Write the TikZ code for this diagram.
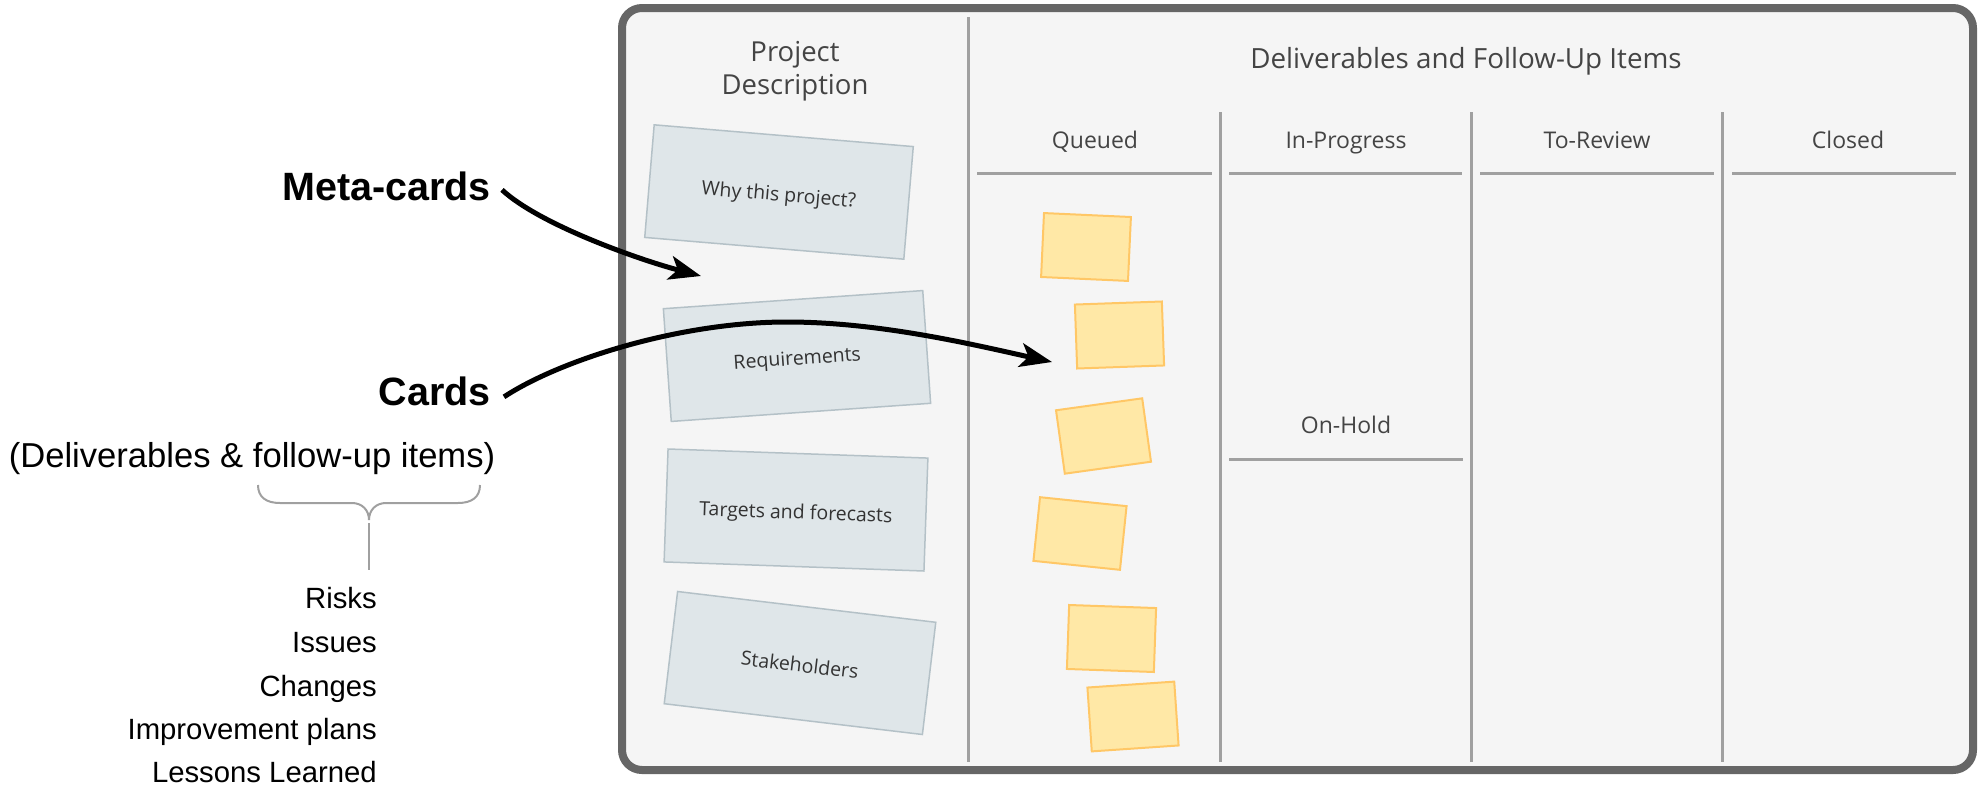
\documentclass[tikz,border=0pt]{standalone}
\usepackage{fontspec}
\setmainfont{Liberation Sans}
\newfontfamily\osans{Open Sans}
\usetikzlibrary{arrows.meta}
\definecolor{boardfill}{HTML}{F5F5F5}
\definecolor{boardline}{HTML}{666666}
\definecolor{gridline}{HTML}{A0A0A0}
\definecolor{headtext}{HTML}{444444}
\definecolor{cardfill}{HTML}{DFE6E9}
\definecolor{cardline}{HTML}{B4C1C7}
\definecolor{cardtext}{HTML}{333333}
\definecolor{stickyfill}{HTML}{FFE8A6}
\definecolor{stickyline}{HTML}{FFC766}
\definecolor{bracecol}{HTML}{A0A0A0}
\begin{document}
\begin{tikzpicture}[x=1pt,y=-1pt,
  metacard/.style={draw=cardline, fill=cardfill, line width=1.5pt, minimum width=260pt, minimum height=113pt, inner sep=0pt, text height=20pt, text depth=2pt, font=\osans\fontsize{19.5}{23}\selectfont, text=cardtext},
  sticky/.style={draw=stickyline, fill=stickyfill, line width=2pt, minimum width=87pt, minimum height=64pt, inner sep=0pt},
  colhead/.style={font=\osans\fontsize{23}{28}\selectfont, text=headtext, anchor=base, inner sep=0pt},
  bighead/.style={font=\osans\fontsize{27.5}{33}\selectfont, text=headtext, anchor=base, inner sep=0pt},
  rule/.style={draw=gridline, line width=3pt},
  callout/.style={font=\fontsize{39.5}{45}\selectfont\bfseries, anchor=base east, inner sep=0pt},
  item/.style={font=\fontsize{29.3}{35}\selectfont, anchor=base east, inner sep=0pt},
  pointer/.style={line width=5pt, -{Stealth[length=32pt,width=24pt,inset=8pt]}},
]
\useasboundingbox (0,0) rectangle (1987,787);
% board
\draw[draw=boardline, fill=boardfill, line width=8pt, rounded corners=20pt] (622,8) rectangle (1973,770);
\draw[rule] (968,17) -- (968,762);
\foreach \x in {1220,1471,1722} \draw[rule] (\x,112) -- (\x,762);
\draw[rule] (977,173) -- (1212,173);
\draw[rule] (1229,173) -- (1462,173);
\draw[rule] (1480,173) -- (1714,173);
\draw[rule] (1732,173) -- (1956,173);
\draw[rule] (1229,459) -- (1463,459);
% headers
\node[bighead] (pd1) at (795,61) {Project};
\node[bighead] (pd2) at (795,94) {Description};
\node[bighead, font=\osans\fontsize{27.8}{33}\selectfont] (dfu) at (1466,68) {Deliverables and Follow-Up Items};
\node[colhead] (hq) at (1095,148) {Queued};
\node[colhead] (hi) at (1346,148) {In-Progress};
\node[colhead] (ht) at (1597,148) {To-Review};
\node[colhead] (hc) at (1848,148) {Closed};
\node[colhead] (ho) at (1346,433) {On-Hold};
% meta-cards
\node[metacard, rotate=-4.8] (c1) at (779,192) {Why this project?};
\node[metacard, rotate=4] (c2) at (797,356) {Requirements};
\node[metacard, rotate=-2] (c3) at (796,510) {Targets and forecasts};
\node[metacard, rotate=-6.8] (c4) at (800,663) {Stakeholders};
% sticky cards
\node[sticky, rotate=-2.6] (s1) at (1086,247) {};
\node[sticky, rotate=2] (s2) at (1119.5,335) {};
\node[sticky, rotate=7.9] (s3) at (1103.5,436) {};
\node[sticky, rotate=-5.9] (s4) at (1080,533.5) {};
\node[sticky, rotate=-2] (s5) at (1111.5,638.5) {};
\node[sticky, rotate=3.9] (s6) at (1133,716.5) {};
% left labels
\node[callout] (meta) at (491,200) {Meta-cards};
\node[callout] (cards) at (491,405) {Cards};
\node[font=\fontsize{34.6}{40}\selectfont, anchor=base, inner sep=0pt] (deliv) at (252,467) {(Deliverables \& follow-up items)};
\node[item] (i1) at (377,608) {Risks};
\node[item] (i2) at (377,652) {Issues};
\node[item] (i3) at (377,696) {Changes};
\node[item] (i4) at (377,739) {Improvement plans};
\node[item] (i5) at (377,782) {Lessons Learned};
% brace
\draw[draw=bracecol, line width=2pt]
  (258,485) .. controls (258,497) and (266,503) .. (280,503) -- (352,503)
  .. controls (362,503) and (369,510) .. (369,520)
  .. controls (369,510) and (376,503) .. (386,503) -- (458,503)
  .. controls (472,503) and (480,497) .. (480,485);
\draw[draw=bracecol, line width=2pt] (369,523) -- (369,570);
% arrows
\coordinate (metatip) at (701,276);
\coordinate (cardtip) at (1052,362);
\draw[pointer] ([xshift=11pt,yshift=-4pt]meta.east) .. controls (540,225) and (640,260) .. (metatip);
\draw[pointer] ([xshift=13pt,yshift=-6pt]cards.east) .. controls (560,360) and (680,322) .. (787,322)
  .. controls (880,322) and (975,345) .. (cardtip);
\end{tikzpicture}
\end{document}
